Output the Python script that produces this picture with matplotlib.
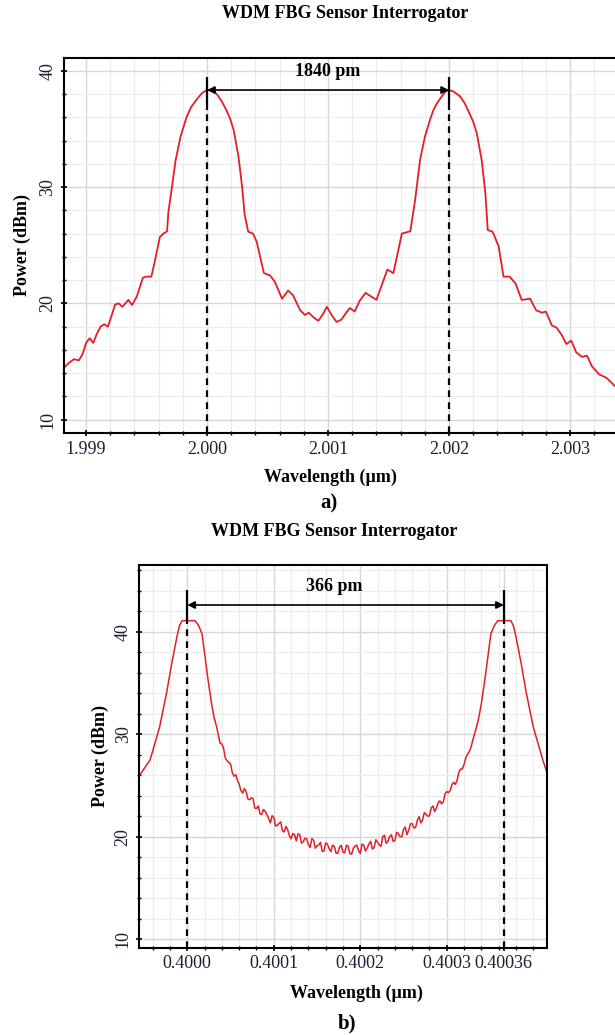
import matplotlib.pyplot as plt
from matplotlib.ticker import MultipleLocator, FixedLocator

plt.rcParams['font.family'] = ['Liberation Serif', 'DejaVu Serif']

# ---- panel a) data: wavelength (um) / power (dBm) ----
wl_a = [1.99882, 1.99886, 1.99890, 1.99894, 1.99897, 1.99900, 1.99903, 1.99906,
        1.99909, 1.99912, 1.99915, 1.99918, 1.99921, 1.99924, 1.99927, 1.99930,
        1.99935, 1.99938, 1.99942, 1.99947, 1.99950, 1.99954, 1.99957, 1.99961,
        1.99964, 1.99967, 1.99968, 1.99971, 1.99974, 1.99978, 1.99983, 1.99987,
        1.99992, 1.99996, 2.00000, 2.00004, 2.00008, 2.00012, 2.00016, 2.00019,
        2.00022, 2.00026, 2.00029, 2.00031, 2.00034,
        2.00038, 2.00041, 2.00047, 2.00052, 2.00056, 2.00062, 2.00067, 2.00071,
        2.00077, 2.00081, 2.00084, 2.00088, 2.00092, 2.00096, 2.00099, 2.00103,
        2.00107, 2.00111, 2.00115, 2.00118, 2.00122, 2.00126, 2.00131, 2.00140,
        2.00149, 2.00154, 2.00161, 2.00168, 2.00172, 2.00176, 2.00180, 2.00184,
        2.00187, 2.00190, 2.00194, 2.00197, 2.00200, 2.00204, 2.00209, 2.00213,
        2.00217, 2.00220, 2.00223, 2.00227, 2.00230, 2.00232,
        2.00236, 2.00241, 2.00245, 2.00250, 2.00255, 2.00260, 2.00267, 2.00272,
        2.00277, 2.00280, 2.00285, 2.00289, 2.00293, 2.00297, 2.00301, 2.00305,
        2.00310, 2.00314, 2.00318, 2.00324, 2.00330, 2.00337]
pw_a = [14.5, 14.9, 15.2, 15.1, 15.6, 16.6, 17.0, 16.6,
        17.4, 18.0, 18.2, 18.0, 18.9, 19.9, 20.0, 19.7,
        20.3, 19.85, 20.6, 22.2, 22.3, 22.3, 23.7, 25.7,
        26.0, 26.2, 27.8, 30.0, 32.3, 34.3, 36.0, 36.9,
        37.6, 38.1, 38.34, 38.3, 38.0, 37.4, 36.6, 35.9,
        34.9, 32.6, 30.0, 27.7, 26.16,
        26.0, 25.3, 22.6, 22.4, 21.86, 20.4, 21.1, 20.7,
        19.4, 19.0, 19.2, 18.8, 18.5, 19.1, 19.7, 19.0,
        18.4, 18.6, 19.2, 19.6, 19.3, 20.2, 20.9, 20.3,
        22.9, 22.6, 26.0, 26.2, 28.9, 32.3, 34.3, 35.7,
        36.6, 37.2, 37.8, 38.2, 38.34, 38.2, 37.8, 37.2,
        36.3, 35.6, 34.6, 32.3, 29.5, 26.3,
        26.16, 24.9, 22.3, 22.3, 21.7, 20.3, 20.4, 19.4,
        19.2, 19.3, 18.1, 17.9, 17.3, 16.5, 16.8, 15.8,
        15.4, 15.5, 14.6, 13.9, 13.6, 12.9]
peaks_a = [2.000, 2.002]
peak_pw_a = 38.34
label_a = '1840 pm'

# ---- panel b) data ----
wl_b = [0.399945, 0.399957, 0.399968, 0.399976, 0.399982, 0.399988, 0.399991,
        0.399994, 0.400009, 0.400013, 0.400017, 0.400020, 0.400024, 0.400028,
        0.400031,
        0.400034, 0.400038, 0.400042, 0.400046, 0.400050, 0.400054, 0.400058,
        0.400062, 0.400066, 0.400070, 0.400074, 0.400078, 0.400082, 0.400086,
        0.400090, 0.400094, 0.400098, 0.400102, 0.400106, 0.400110, 0.400114,
        0.400118, 0.400122, 0.400126, 0.400130, 0.400134, 0.400138, 0.400142,
        0.400146, 0.400150, 0.400154, 0.400158, 0.400162, 0.400166, 0.400170,
        0.400174, 0.400178, 0.400182, 0.400186, 0.400190, 0.400194, 0.400198,
        0.400202, 0.400206, 0.400210, 0.400214, 0.400218, 0.400222, 0.400226,
        0.400230, 0.400234, 0.400238, 0.400242, 0.400246, 0.400250, 0.400254,
        0.400258, 0.400262, 0.400266, 0.400270, 0.400274, 0.400278, 0.400282,
        0.400286, 0.400290, 0.400294, 0.400298, 0.400302, 0.400306, 0.400310,
        0.400314, 0.400318, 0.400322, 0.400326, 0.400330, 0.400334,
        0.400337, 0.400340, 0.400344, 0.400348, 0.400351, 0.400355, 0.400359,
        0.400374, 0.400377, 0.400380, 0.400386, 0.400392, 0.400400, 0.400411,
        0.400416]
pw_b = [26.0, 27.5, 30.7, 34.0, 36.9, 39.5, 40.6,
        41.07, 41.07, 40.6, 39.8, 37.9, 35.3, 33.0,
        31.6,
        30.7, 29.1, 28.6, 27.4, 27.1, 25.9, 25.5,
        24.5, 24.7, 23.7, 23.8, 22.8, 23.0, 22.15,
        22.5, 21.8, 22.05, 21.05, 21.3, 20.6, 21.0,
        20.1, 20.3, 19.6, 20.2, 19.5, 19.8, 18.95,
        19.67, 19.1, 19.45, 18.6, 19.26, 18.55, 19.05,
        18.4, 19.16, 18.42, 19.07, 18.31, 19.1, 18.64,
        19.28, 18.61, 19.3, 18.8, 19.7, 19.17, 20.03,
        19.35, 20.02, 19.55, 20.43, 20.0, 20.7, 20.2,
        21.25, 20.85, 21.6, 21.35, 22.35, 22.0, 22.8,
        22.45, 23.3, 23.2, 24.2, 24.3, 25.1, 25.1,
        26.3, 26.6, 27.7, 28.3, 29.4, 30.6,
        31.6, 33.0, 35.3, 37.9, 39.8, 40.6, 41.07,
        41.07, 40.6, 39.5, 36.9, 34.0, 30.7, 27.5,
        26.2]
# extra samples of the noisy trough (between the ones above)
wl_b_mid = [0.400036, 0.400040, 0.400044, 0.400048, 0.400052, 0.400056, 0.400060,
            0.400064, 0.400068, 0.400072, 0.400076, 0.400080, 0.400084, 0.400088,
            0.400092, 0.400096, 0.400100, 0.400104, 0.400108, 0.400112, 0.400116,
            0.400120, 0.400124, 0.400128, 0.400132, 0.400136, 0.400140, 0.400144,
            0.400148, 0.400152, 0.400156, 0.400160, 0.400164, 0.400168, 0.400172,
            0.400176, 0.400180, 0.400184, 0.400188, 0.400192, 0.400196, 0.400200,
            0.400204, 0.400208, 0.400212, 0.400216, 0.400220, 0.400224, 0.400228,
            0.400232, 0.400236, 0.400240, 0.400244, 0.400248, 0.400252, 0.400256,
            0.400260, 0.400264, 0.400268, 0.400272, 0.400276, 0.400280, 0.400284,
            0.400288, 0.400292, 0.400296, 0.400300, 0.400304, 0.400308, 0.400312,
            0.400316, 0.400320, 0.400324, 0.400328, 0.400332]
pw_b_mid = [29.85, 29.05, 27.65, 27.25, 26.25, 26.05, 25.1,
            24.25, 24.4, 23.6, 23.7, 22.75, 22.25, 22.65,
            22.15, 21.35, 21.9, 21.1, 21.45, 20.45, 20.7,
            19.8, 20.2, 20.28, 19.38, 19.85, 19.23, 19.81,
            18.88, 19.2, 18.58, 19.4, 18.83, 19.18, 18.38,
            18.98, 18.49, 19.17, 18.34, 18.88, 19.17, 18.36,
            19.17, 18.88, 19.55, 18.93, 19.46, 19.07, 20.14,
            19.56, 20.19, 19.61, 20.29, 20.0, 20.95, 20.65,
            21.28, 20.93, 21.95, 21.63, 22.18, 22.05, 23.0,
            22.8, 23.5, 23.4, 24.4, 24.5, 25.3, 25.55,
            26.6, 27.05, 28.05, 28.7, 30.0]
peaks_b = [0.4000, 0.400366]
peak_pw_b = 41.07
label_b = '366 pm'
ticks_b = [0.4000, 0.4001, 0.4002, 0.4003, 0.400366]
ticklabels_b = ['0.4000', '0.4001', '0.4002', '0.4003', '0.40036']

title = 'WDM FBG Sensor Interrogator'
red = '#e41e26'
tick_col = '#1d1d33'

fig = plt.figure(figsize=(6.15, 10.35), dpi=100)
ax1 = fig.add_axes([0.1041, 0.5816, 0.896, 0.3623])
ax2 = fig.add_axes([0.2265, 0.0844, 0.6624, 0.3697])


def style_axes(ax):
    ax.grid(True, which='major', color='#d6d6d6', lw=1.0)
    ax.grid(True, which='minor', color='#ececec', lw=0.8)
    ax.set_axisbelow(True)
    ax.yaxis.set_major_locator(MultipleLocator(10))
    ax.yaxis.set_minor_locator(MultipleLocator(2))
    for s in ax.spines.values():
        s.set_linewidth(1.5)
    ax.tick_params(which='major', direction='inout', length=5, width=1.2,
                   labelsize=13, labelcolor=tick_col, pad=3)
    ax.tick_params(which='minor', direction='inout', length=3, width=1.0)
    for lab in ax.get_yticklabels():
        lab.set_rotation(90)
        lab.set_va('center')


def annotate_peaks(ax, peaks, bar_lo, bar_hi, arrow_y, text, text_x, text_y):
    ybot = ax.get_ylim()[0]
    ax.vlines(peaks, ybot, bar_lo, colors='k', lw=1.6, linestyles=(0, (3, 2.4)))
    ax.vlines(peaks, bar_lo, bar_hi, colors='k', lw=1.6)
    ax.annotate('', xy=(peaks[1], arrow_y), xytext=(peaks[0], arrow_y),
                arrowprops=dict(arrowstyle='<|-|>', color='k', lw=1.2,
                                mutation_scale=11, shrinkA=0, shrinkB=0))
    ax.text(text_x, text_y, text, ha='center', va='center',
            fontsize=13, fontweight='bold')


# panel a
ax1.plot(wl_a, pw_a, color=red, lw=1.3)
ax1.set_xlim(1.998818, 2.003372)
ax1.set_ylim(8.85, 41.09)
ax1.xaxis.set_major_locator(FixedLocator([1.999, 2.000, 2.001, 2.002, 2.003]))
ax1.set_xticklabels(['1.999', '2.000', '2.001', '2.002', '2.003'])
ax1.xaxis.set_minor_locator(MultipleLocator(0.0002))
ax1.spines['right'].set_visible(False)
style_axes(ax1)
annotate_peaks(ax1, peaks_a, 36.6, 39.45, peak_pw_a, label_a,
               (peaks_a[0] + peaks_a[1]) / 2, 39.9)

# panel b
trace_b = sorted(zip(wl_b + wl_b_mid, pw_b + pw_b_mid))
ax2.plot([p[0] for p in trace_b], [p[1] for p in trace_b], color=red, lw=1.1)
ax2.set_xlim(0.3999445, 0.4004155)
ax2.set_ylim(9.18, 46.5)
ax2.xaxis.set_major_locator(FixedLocator(ticks_b))
ax2.set_xticklabels(ticklabels_b)
ax2.xaxis.set_minor_locator(MultipleLocator(0.00002))
style_axes(ax2)
annotate_peaks(ax2, peaks_b, peak_pw_b, 44.1, 42.6, label_b, 0.400170, 44.4)

# titles and labels
bold = dict(fontweight='bold', fontsize=13, ha='center', va='center')
fig.text(0.561, 0.9865, title, **bold)
fig.text(0.543, 0.486, title, **bold)
fig.text(0.538, 0.539, 'Wavelength (\u00b5m)', **bold)
fig.text(0.580, 0.0406, 'Wavelength (\u00b5m)', **bold)
fig.text(0.535, 0.514, 'a)', fontweight='bold', fontsize=15, ha='center', va='center')
fig.text(0.564, 0.0116, 'b)', fontweight='bold', fontsize=15, ha='center', va='center')
fig.text(0.036, 0.763, 'Power (dBm)', rotation=90, **bold)
fig.text(0.163, 0.27, 'Power (dBm)', rotation=90, **bold)

fig.savefig('out.png', dpi=100)
